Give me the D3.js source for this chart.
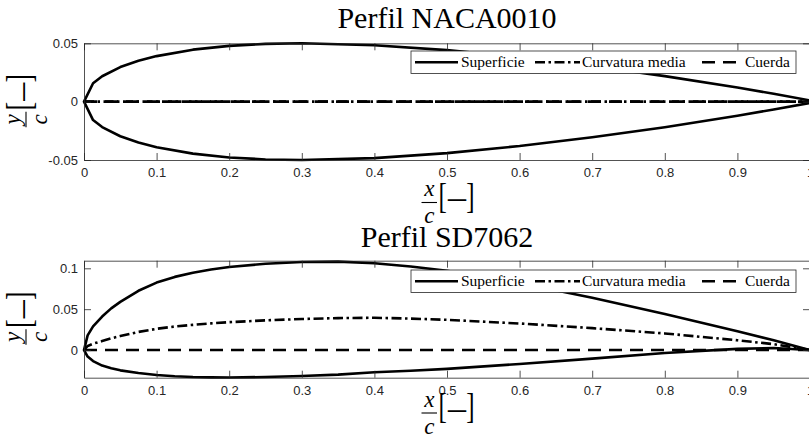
<!DOCTYPE html>
<html><head><meta charset="utf-8">
<script src="https://cdn.jsdelivr.net/npm/d3@7/dist/d3.min.js"></script>
<style>body{margin:0;background:#fff} svg{display:block}</style>
</head><body><svg id="c" width="809" height="436"></svg>
<script>
// ---------- data ----------
const xTicks = [0, 0.1, 0.2, 0.3, 0.4, 0.5, 0.6, 0.7, 0.8, 0.9, 1];
const xTickLabels = ["0", "0.1", "0.2", "0.3", "0.4", "0.5", "0.6", "0.7", "0.8", "0.9", "1"];

const nacaTitle = "Perfil NACA0010";
const nacaYTicks = [-0.05, 0, 0.05];
const nacaYTickLabels = ["-0.05", "0", "0.05"];
const nacaYDomain = [-0.05, 0.05];
const nacaX = [0, 0.0125, 0.025, 0.05, 0.075, 0.1, 0.15, 0.2, 0.25, 0.3, 0.4, 0.5, 0.6, 0.7, 0.8, 0.9, 0.95, 1.0];
const nacaUpper = [0, 0.01578, 0.02178, 0.02962, 0.035, 0.03902, 0.04455, 0.04782, 0.04952, 0.05, 0.04837, 0.04412, 0.03803, 0.03053, 0.02187, 0.01207, 0.00672, 0.00105];
const nacaLower = [0, -0.01578, -0.02178, -0.02962, -0.035, -0.03902, -0.04455, -0.04782, -0.04952, -0.05, -0.04837, -0.04412, -0.03803, -0.03053, -0.02187, -0.01207, -0.00672, -0.00105];
const nacaCamberX = [0, 1];
const nacaCamber = [0, 0];

const sdTitle = "Perfil SD7062";
const sdYTicks = [0, 0.05, 0.1];
const sdYTickLabels = ["0", "0.05", "0.1"];
const sdYDomain = [-0.0338, 0.1093];
const sdX = [0, 0.005, 0.0125, 0.025, 0.0375, 0.05, 0.075, 0.1, 0.125, 0.15, 0.175, 0.2, 0.25, 0.3, 0.35, 0.4, 0.45, 0.5, 0.6, 0.7, 0.8, 0.9, 0.95, 1.0];
const sdUpper = [0, 0.018, 0.029, 0.041, 0.051, 0.059, 0.0725, 0.0825, 0.0895, 0.0945, 0.0985, 0.1016, 0.1055, 0.1078, 0.1082, 0.1062, 0.1022, 0.097, 0.082, 0.064, 0.044, 0.023, 0.012, 0];
const sdLower = [0, -0.008, -0.0135, -0.019, -0.0222, -0.0248, -0.028, -0.0305, -0.032, -0.033, -0.0334, -0.0335, -0.033, -0.0318, -0.03, -0.0272, -0.0253, -0.023, -0.017, -0.0105, -0.0035, 0.0015, 0.0025, 0];
const sdCamber = [0, 0.005, 0.0078, 0.011, 0.0144, 0.0171, 0.0222, 0.026, 0.0288, 0.0308, 0.0326, 0.0341, 0.0363, 0.038, 0.0391, 0.0395, 0.0385, 0.037, 0.0325, 0.0268, 0.0203, 0.012, 0.0072, 0];

const chordX = [0, 1];
const chordY = [0, 0];

const legendLabels = ["Superficie", "Curvatura media", "Cuerda"];

// ---------- drawing ----------
const svg = d3.select("#c");
const AX = "#262626";
const LW = 2.6;
const DASHDOT = "10,3.5,2.5,3.5";
const DASHED = "13,8";
const SERIF = "'Liberation Serif', 'Times New Roman', serif";

const x = d3.scaleLinear().domain([0, 1]).range([84, 810]);

function fracLabel(g, num) {
  // local frame: origin at label centre, fraction bar at v=0
  g.append("text").attr("x", -17.7).attr("y", -6.5).attr("text-anchor", "middle")
    .style("font-family", SERIF).style("font-style", "italic")
    .style("font-size", "23px").attr("fill", "#000").text(num);
  g.append("line").attr("x1", -25.5).attr("x2", -10).attr("y1", 0).attr("y2", 0)
    .attr("stroke", "#000").attr("stroke-width", 1.1);
  g.append("text").attr("x", -17.7).attr("y", 20.5).attr("text-anchor", "middle")
    .style("font-family", SERIF).style("font-style", "italic")
    .style("font-size", "23px").attr("fill", "#000").text("c");
  const bg = g.append("g").attr("transform", "scale(1,1.4)");
  bg.append("text").attr("x", -8.5).attr("y", 3.6)
    .style("font-family", SERIF).style("font-size", "25px").attr("fill", "#000").text("[");
  bg.append("text").attr("x", 27.5).attr("y", 3.6).attr("text-anchor", "end")
    .style("font-family", SERIF).style("font-size", "25px").attr("fill", "#000").text("]");
  g.append("text").attr("x", 10).attr("y", 6.5).attr("text-anchor", "middle")
    .style("font-family", SERIF).style("font-size", "36px").attr("fill", "#000").text("\u2013");
}

function panel(cfg) {
  const y = d3.scaleLinear().domain(cfg.yDomain).range([cfg.bottom, cfg.top]);
  const g = svg.append("g");

  // title
  g.append("text").attr("x", (84 + 810) / 2).attr("y", cfg.titleY).attr("text-anchor", "middle")
    .style("font-family", SERIF).style("font-size", "30px").attr("fill", "#000")
    .text(cfg.title);

  // data lines
  const line = d3.line().x(d => x(d[0])).y(d => y(d[1]));
  const surf = cfg.xs.map((v, i) => [v, cfg.upper[i]]).reverse()
    .concat(cfg.xs.map((v, i) => [v, cfg.lower[i]]).slice(1));
  g.append("path").attr("d", line(surf)).attr("fill", "none").attr("stroke", "#000")
    .attr("stroke-width", LW).attr("stroke-linejoin", "round");
  g.append("path").attr("d", line(cfg.camberX.map((v, i) => [v, cfg.camber[i]])))
    .attr("fill", "none").attr("stroke", "#000").attr("stroke-width", LW)
    .attr("stroke-dasharray", DASHDOT);
  g.append("path").attr("d", line(chordX.map((v, i) => [v, chordY[i]])))
    .attr("fill", "none").attr("stroke", "#000").attr("stroke-width", LW)
    .attr("stroke-dasharray", DASHED);

  // axes
  const style = sel => {
    sel.select(".domain").attr("stroke", AX).attr("stroke-width", 0.8);
    sel.selectAll(".tick line").attr("stroke", AX).attr("stroke-width", 0.8);
    sel.selectAll(".tick text").attr("fill", AX)
      .style("font-family", "'Liberation Sans', Arial, sans-serif").style("font-size", "13px");
  };
  g.append("g").attr("transform", `translate(0,${cfg.bottom})`)
    .call(d3.axisBottom(x).tickValues(xTicks).tickFormat((d, i) => xTickLabels[i])
      .tickSize(-7).tickSizeOuter(0).tickPadding(8)).call(style);
  g.append("g").attr("transform", `translate(0,${cfg.top})`)
    .call(d3.axisTop(x).tickValues(xTicks).tickFormat("").tickSize(-7).tickSizeOuter(0)).call(style);
  g.append("g").attr("transform", `translate(84,0)`)
    .call(d3.axisLeft(y).tickValues(cfg.yTicks).tickFormat((d, i) => cfg.yTickLabels[i])
      .tickSize(-7).tickSizeOuter(0).tickPadding(6)).call(style);
  g.append("g").attr("transform", `translate(810,0)`)
    .call(d3.axisRight(y).tickValues(cfg.yTicks).tickFormat("").tickSize(-7).tickSizeOuter(0)).call(style);

  // legend
  const lg = g.append("g");
  lg.append("rect").attr("x", 411).attr("y", cfg.legTop).attr("width", 385).attr("height", 22.5)
    .attr("fill", "#fff").attr("stroke", AX).attr("stroke-width", 0.8);
  const ly = cfg.legTop + 11.2;
  const items = [
    { x0: 415, x1: 458, tx: 461, dash: null },
    { x0: 535, x1: 580, tx: 582, dash: DASHDOT },
    { x0: 702, x1: 744, tx: 745, dash: DASHED }
  ];
  items.forEach((it, i) => {
    const l = lg.append("line").attr("x1", it.x0).attr("x2", it.x1).attr("y1", ly).attr("y2", ly)
      .attr("stroke", "#000").attr("stroke-width", LW);
    if (it.dash) l.attr("stroke-dasharray", it.dash);
    lg.append("text").attr("x", it.tx).attr("y", ly + 5.2)
      .style("font-family", SERIF).style("font-size", "15.5px")
      .attr("fill", "#000").text(legendLabels[i]);
  });

  // axis labels
  fracLabel(g.append("g").attr("transform", `translate(447,${cfg.xLabelY})`), "x");
  fracLabel(g.append("g").attr("transform", `translate(26,${(cfg.top + cfg.bottom) / 2}) rotate(-90)`), "y");
}

panel({ title: nacaTitle, titleY: 28.3, top: 43.3, bottom: 160, yDomain: nacaYDomain,
  yTicks: nacaYTicks, yTickLabels: nacaYTickLabels, xs: nacaX, upper: nacaUpper, lower: nacaLower,
  camberX: nacaCamberX, camber: nacaCamber, legTop: 51, xLabelY: 202.5 });
panel({ title: sdTitle, titleY: 246.7, top: 260.7, bottom: 377.7, yDomain: sdYDomain,
  yTicks: sdYTicks, yTickLabels: sdYTickLabels, xs: sdX, upper: sdUpper, lower: sdLower,
  camberX: sdX, camber: sdCamber, legTop: 270, xLabelY: 413 });
</script></body></html>
